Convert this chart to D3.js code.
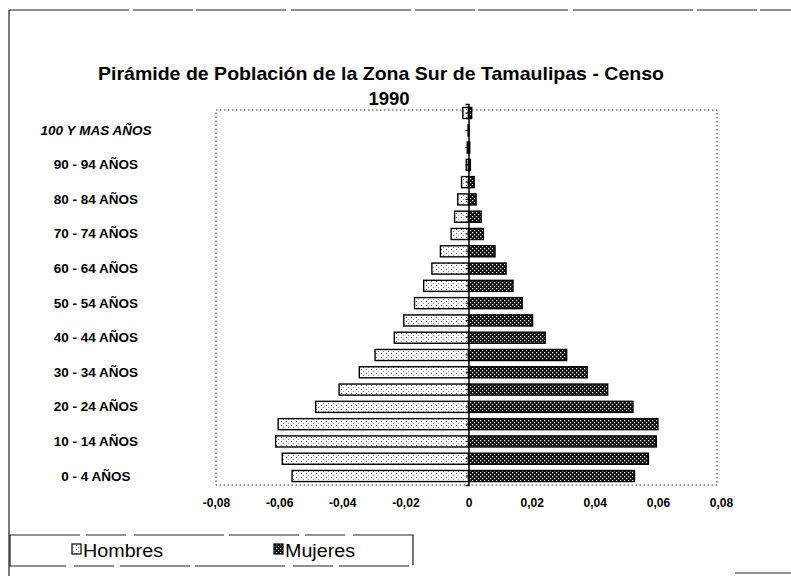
<!DOCTYPE html>
<html>
<head>
<meta charset="utf-8">
<script src="https://cdn.jsdelivr.net/npm/d3@7"></script>
<style>
  html, body { margin: 0; padding: 0; background: #fff; }
  svg { display: block; font-family: "Liberation Sans", Arial, sans-serif; }
</style>
</head>
<body>
<svg id="chart" width="791" height="576"></svg>
<script>
// ---- data (bottom to top) ----
const categories = [
  "0 - 4 AÑOS", "5 - 9 AÑOS", "10 - 14 AÑOS", "15 - 19 AÑOS", "20 - 24 AÑOS",
  "25 - 29 AÑOS", "30 - 34 AÑOS", "35 - 39 AÑOS", "40 - 44 AÑOS", "45 - 49 AÑOS",
  "50 - 54 AÑOS", "55 - 59 AÑOS", "60 - 64 AÑOS", "65 - 69 AÑOS", "70 - 74 AÑOS",
  "75 - 79 AÑOS", "80 - 84 AÑOS", "85 - 89 AÑOS", "90 - 94 AÑOS", "95 - 99 AÑOS",
  "100 Y MAS AÑOS", "NO ESPECIFICADO"
];
const hombres = [
  -0.0559, -0.0590, -0.0611, -0.0603, -0.0484, -0.0410, -0.0346, -0.0296, -0.0235, -0.0205,
  -0.0171, -0.0142, -0.0116, -0.0089, -0.0055, -0.0044, -0.0034, -0.0022, -0.0007, -0.0004,
  -0.0001, -0.0018
];
const mujeres = [
  0.0526, 0.0570, 0.0595, 0.0600, 0.0521, 0.0441, 0.0376, 0.0311, 0.0243, 0.0203,
  0.0170, 0.0141, 0.0119, 0.0084, 0.0047, 0.0040, 0.0024, 0.0018, 0.0006, 0.0004,
  0.0001, 0.0010
];
const shownLabels = [
  "0 - 4 AÑOS", "10 - 14 AÑOS", "20 - 24 AÑOS", "30 - 34 AÑOS", "40 - 44 AÑOS",
  "50 - 54 AÑOS", "60 - 64 AÑOS", "70 - 74 AÑOS", "80 - 84 AÑOS", "90 - 94 AÑOS",
  "100 Y MAS AÑOS"
];
const xTicks = [-0.08, -0.06, -0.04, -0.02, 0, 0.02, 0.04, 0.06, 0.08];
const seriesNames = ["Hombres", "Mujeres"];
const titleLines = ["Pirámide de Población de la Zona Sur de Tamaulipas - Censo", "1990"];

// ---- layout ----
const svg = d3.select("#chart");
const plot = { left: 216, right: 721, top: 104, bottom: 485 };

const x = d3.scaleLinear().domain([-0.08, 0.08]).range([plot.left, plot.right]);
const y = d3.scaleBand().domain(categories).range([plot.bottom, plot.top])
  .paddingInner(0.36).paddingOuter(0.2);

// patterns
const defs = svg.append("defs");
const pH = defs.append("pattern").attr("id", "patH").attr("patternUnits", "userSpaceOnUse")
  .attr("width", 5).attr("height", 4);
pH.append("rect").attr("width", 5).attr("height", 4).attr("fill", "#fff");
pH.append("rect").attr("x", 1).attr("y", 1).attr("width", 1).attr("height", 1).attr("fill", "#444");
pH.append("rect").attr("x", 3).attr("y", 3).attr("width", 1).attr("height", 1).attr("fill", "#888");

const pM = defs.append("pattern").attr("id", "patM").attr("patternUnits", "userSpaceOnUse")
  .attr("width", 4).attr("height", 4);
pM.append("rect").attr("width", 4).attr("height", 4).attr("fill", "#111");
pM.append("rect").attr("x", 0).attr("y", 0).attr("width", 1.2).attr("height", 1.2).attr("fill", "#fff");
pM.append("rect").attr("x", 2).attr("y", 2).attr("width", 1.2).attr("height", 1.2).attr("fill", "#fff");

// outer frame (scanned look)
svg.append("line").attr("x1", 9).attr("x2", 791).attr("y1", 10).attr("y2", 10)
  .attr("stroke", "#222").attr("stroke-width", 1.2).attr("stroke-dasharray", "120,4,60,3,90,5");
svg.append("line").attr("x1", 9).attr("x2", 9).attr("y1", 10).attr("y2", 576)
  .attr("stroke", "#222").attr("stroke-width", 1.2);
svg.append("line").attr("x1", 735).attr("x2", 791).attr("y1", 573).attr("y2", 573)
  .attr("stroke", "#222").attr("stroke-width", 1);

// title
svg.append("text").attr("x", 381).attr("y", 80).attr("text-anchor", "middle")
  .attr("font-size", 18.5).attr("font-weight", "bold")
  .attr("textLength", 566).attr("lengthAdjust", "spacingAndGlyphs").text(titleLines[0]);
svg.append("text").attr("x", 389).attr("y", 105).attr("text-anchor", "middle")
  .attr("font-size", 18.5).attr("font-weight", "bold").text(titleLines[1]);

// plot area dotted border
svg.append("rect").attr("x", plot.left).attr("y", 110)
  .attr("width", plot.right - 4 - plot.left).attr("height", plot.bottom - 110)
  .attr("fill", "none").attr("stroke", "#333").attr("stroke-width", 1)
  .attr("stroke-dasharray", "1.5,2.5");

// bars
const g = svg.append("g");
g.selectAll("rect.h").data(categories).join("rect").attr("class", "h")
  .attr("x", (d, i) => x(hombres[i]))
  .attr("width", (d, i) => x(0) - x(hombres[i]))
  .attr("y", d => y(d)).attr("height", y.bandwidth())
  .attr("fill", "url(#patH)").attr("stroke", "#000").attr("stroke-width", 1.4);
g.selectAll("rect.m").data(categories).join("rect").attr("class", "m")
  .attr("x", x(0))
  .attr("width", (d, i) => x(mujeres[i]) - x(0))
  .attr("y", d => y(d)).attr("height", y.bandwidth())
  .attr("fill", "url(#patM)").attr("stroke", "#000").attr("stroke-width", 1.4);

// central vertical axis with small ticks
const yAxis = d3.axisLeft(y).tickSize(3).tickFormat("");
const ya = svg.append("g").attr("transform", `translate(${x(0)},0)`).call(yAxis);
ya.select(".domain").attr("stroke", "#000").attr("stroke-width", 1.5);
ya.selectAll(".tick line").attr("stroke", "#000");

// category labels
svg.append("g").selectAll("text").data(shownLabels).join("text")
  .attr("x", 96).attr("y", d => y(d) + y.bandwidth() / 2 + 4.5)
  .attr("text-anchor", "middle").attr("font-size", 13.5).attr("font-weight", "bold")
  .attr("font-style", d => d.startsWith("100") ? "italic" : "normal")
  .text(d => d);

// x axis labels
const xa = svg.append("g").attr("transform", `translate(0,${plot.bottom})`)
  .call(d3.axisBottom(x).tickValues(xTicks).tickSize(0).tickPadding(13)
    .tickFormat(d => d === 0 ? "0" : d3.format(".2f")(d).replace(".", ",").replace("−", "-")));
xa.select(".domain").remove();
xa.selectAll("text").attr("font-size", 12).attr("font-weight", "bold").attr("fill", "#000")
  .attr("font-family", "Liberation Sans, Arial, sans-serif");

// legend
const lg = svg.append("g");
lg.append("rect").attr("x", 10).attr("y", 535).attr("width", 403).attr("height", 31)
  .attr("fill", "#fff").attr("stroke", "#222").attr("stroke-width", 1.2)
  .attr("stroke-dasharray", "70,6,40,8,90,5");
const legX = [72, 274];
const legW = [80, 70];
const legFill = ["url(#patH)", "url(#patM)"];
seriesNames.forEach((s, i) => {
  lg.append("rect").attr("x", legX[i]).attr("y", 544).attr("width", 9).attr("height", 10)
    .attr("fill", legFill[i]).attr("stroke", "#000").attr("stroke-width", 1.2);
  lg.append("text").attr("x", legX[i] + 11).attr("y", 557).attr("font-size", 18)
    .attr("textLength", legW[i]).attr("lengthAdjust", "spacingAndGlyphs").text(s);
});
</script>
</body>
</html>
